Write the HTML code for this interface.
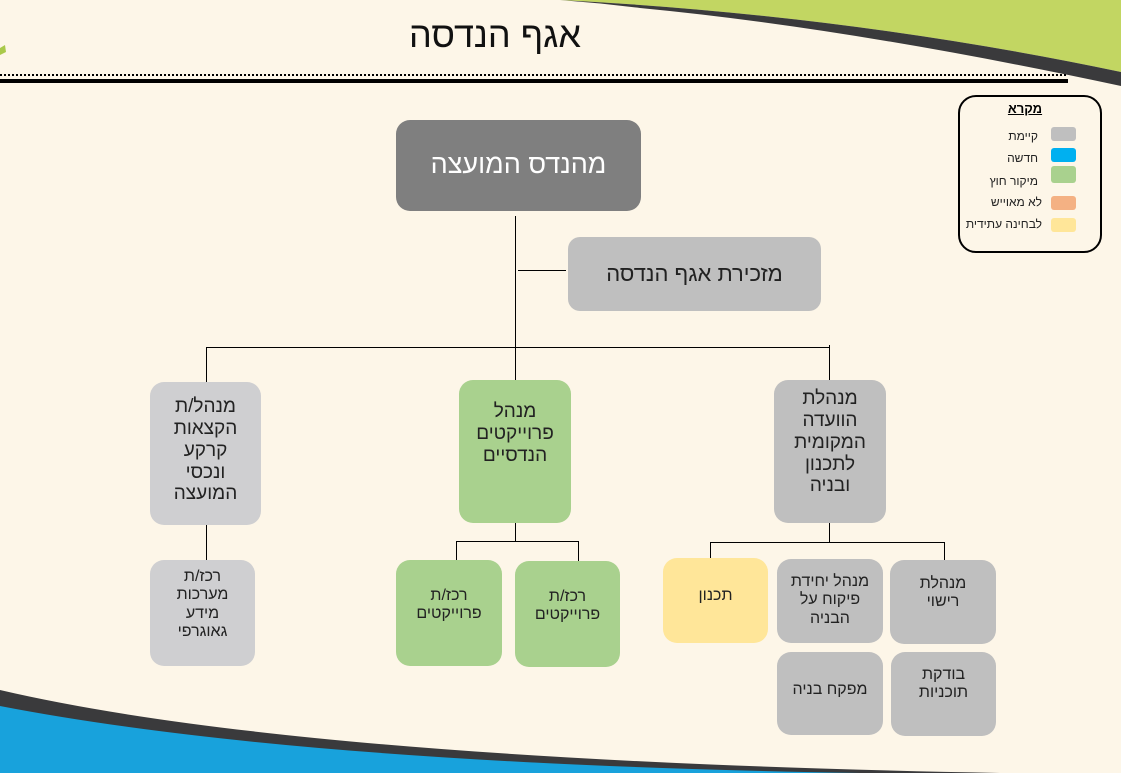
<!DOCTYPE html>
<html><head><meta charset="utf-8"><style>
body{margin:0;width:1121px;height:773px;overflow:hidden;background:#fdf6e8;font-family:"Liberation Sans","DejaVu Sans",sans-serif;position:relative}
.b{position:absolute;border-radius:14px;text-align:center;direction:rtl;color:#222;box-sizing:border-box;line-height:1.15}
.g{background:#bfbfbf}.gr{background:#a9d18e}.l{background:#cfcfd1}
.ln{position:absolute;background:#000}
.lg{position:absolute;right:30px;direction:rtl;font-size:12px;color:#222}
.sw{position:absolute;left:1051px;width:25px;height:14px;border-radius:3px}
</style></head><body>
<svg width="1121" height="773" style="position:absolute;left:0;top:0">
<path d="M560 0 Q850 15 1121 72 L1121 0 Z" fill="#c2d662"/>
<path d="M560 0 Q850 15 1121 72 L1121 86 Q850 28 640 8 Q600 3 560 0 Z" fill="#3a3a3c"/>
<path d="M0 690 Q300 760 1000 773 L0 773 Z" fill="#3a3a3c"/>
<path d="M0 706 Q300 764 860 773 L0 773 Z" fill="#18a2dc"/>
<path d="M0 48 L5 45 L6 52 L0 55 Z" fill="#a9c94a"/>
<line x1="0" y1="75" x2="1068" y2="75" stroke="#000" stroke-width="2" stroke-dasharray="2 2"/>
<line x1="0" y1="81" x2="1068" y2="81" stroke="#000" stroke-width="4"/>
</svg>
<div style="position:absolute;left:400px;top:14px;width:190px;text-align:center;font-size:36px;direction:rtl;color:#111">אגף הנדסה</div>

<div style="position:absolute;left:958px;top:95px;width:144px;height:158px;border:2px solid #000;border-radius:18px;box-sizing:border-box"></div>
<div style="position:absolute;left:1000px;top:101px;width:50px;text-align:center;font-size:13px;font-weight:bold;text-decoration:underline;direction:rtl">מקרא</div>
<div class="lg" style="top:129px;right:83px">קיימת</div><div class="sw" style="top:127px;background:#bfbfbf"></div>
<div class="lg" style="top:151px;right:83px">חדשה</div><div class="sw" style="top:148px;background:#00b0f0"></div>
<div class="lg" style="top:174px;right:83px">מיקור חוץ</div><div class="sw" style="top:166px;height:17px;background:#a9d18e"></div>
<div class="lg" style="top:195px;right:79px">לא מאוייש</div><div class="sw" style="top:196px;background:#f4b183"></div>
<div class="lg" style="top:217px;right:79px">לבחינה עתידית</div><div class="sw" style="top:218px;background:#ffe699"></div>

<div class="b" style="left:396px;top:120px;width:245px;height:91px;background:#7f7f7f;color:#fff;font-size:27px;padding-top:29px">מהנדס המועצה</div>
<div class="b" style="left:568px;top:237px;width:253px;height:74px;font-size:22px;padding-top:24px" ><div class="g" style="position:absolute;inset:0;border-radius:12px;z-index:-1"></div>מזכירת אגף הנדסה</div>

<div class="ln" style="left:515px;top:216px;width:1px;height:132px"></div>
<div class="ln" style="left:518px;top:270px;width:48px;height:1px"></div>
<div class="ln" style="left:206px;top:347px;width:624px;height:1px"></div>
<div class="ln" style="left:206px;top:347px;width:1px;height:35px"></div>
<div class="ln" style="left:515px;top:347px;width:1px;height:33px"></div>
<div class="ln" style="left:829px;top:345px;width:1px;height:35px"></div>

<div class="b l" style="left:150px;top:382px;width:111px;height:143px;font-size:19px;padding-top:14px">מנהל/ת<br>הקצאות<br>קרקע<br>ונכסי<br>המועצה</div>
<div class="b gr" style="left:459px;top:380px;width:112px;height:143px;font-size:19px;padding-top:21px">מנהל<br>פרוייקטים<br>הנדסיים</div>
<div class="b g" style="left:774px;top:380px;width:112px;height:143px;font-size:19px;padding-top:8px">מנהלת<br>הוועדה<br>המקומית<br>לתכנון<br>ובניה</div>

<div class="ln" style="left:206px;top:525px;width:1px;height:35px"></div>
<div class="b l" style="left:150px;top:560px;width:105px;height:106px;font-size:16px;padding-top:8px">רכז/ת<br>מערכות<br>מידע<br>גאוגרפי</div>

<div class="ln" style="left:515px;top:523px;width:1px;height:18px"></div>
<div class="ln" style="left:456px;top:541px;width:123px;height:1px"></div>
<div class="ln" style="left:456px;top:541px;width:1px;height:19px"></div>
<div class="ln" style="left:578px;top:541px;width:1px;height:20px"></div>
<div class="b gr" style="left:396px;top:560px;width:106px;height:106px;font-size:16px;padding-top:27px">רכז/ת<br>פרוייקטים</div>
<div class="b gr" style="left:515px;top:561px;width:105px;height:106px;font-size:16px;padding-top:27px">רכז/ת<br>פרוייקטים</div>

<div class="ln" style="left:829px;top:523px;width:1px;height:19px"></div>
<div class="ln" style="left:710px;top:542px;width:235px;height:1px"></div>
<div class="ln" style="left:710px;top:542px;width:1px;height:16px"></div>
<div class="ln" style="left:944px;top:542px;width:1px;height:18px"></div>
<div class="b" style="left:663px;top:558px;width:105px;height:85px;background:#ffe699;font-size:16px;padding-top:29px">תכנון</div>
<div class="b g" style="left:777px;top:559px;width:106px;height:84px;font-size:16px;padding-top:14px">מנהל יחידת<br>פיקוח על<br>הבניה</div>
<div class="b g" style="left:890px;top:560px;width:106px;height:84px;font-size:16px;padding-top:15px">מנהלת<br>רישוי</div>
<div class="b g" style="left:777px;top:652px;width:106px;height:83px;font-size:16px;padding-top:29px">מפקח בניה</div>
<div class="b g" style="left:891px;top:652px;width:105px;height:84px;font-size:16px;padding-top:14px">בודקת<br>תוכניות</div>
</body></html>
